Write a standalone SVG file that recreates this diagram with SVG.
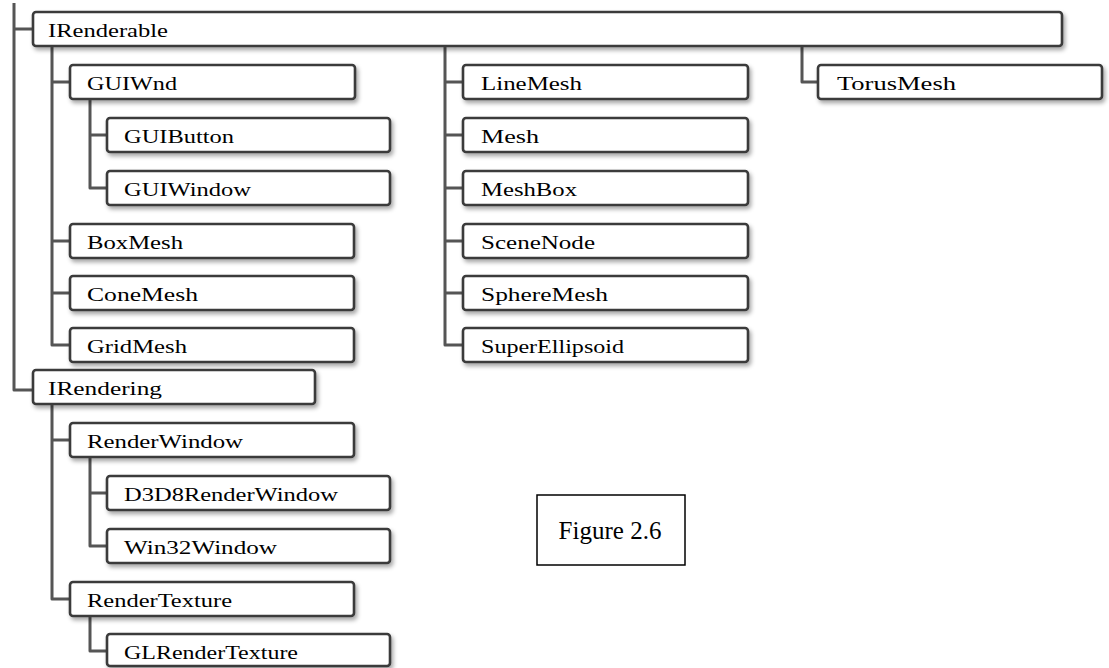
<svg xmlns="http://www.w3.org/2000/svg" width="1109" height="668" viewBox="0 0 1109 668">
<style>
.box{fill:#fff;stroke:#3a3a3a;stroke-width:2.6;filter:url(#sh)}
.t{font-family:"Liberation Serif","Times New Roman",serif;font-size:18px;fill:#000}
.conn{fill:none;stroke:#555;stroke-width:3;stroke-linejoin:round}
.fig{fill:#fff;stroke:#000;stroke-width:1.5}
.ft{font-family:"Liberation Serif","Times New Roman",serif;font-size:25px;fill:#000}
</style>
<defs>
<filter id="sh" x="-5%" y="-30%" width="110%" height="180%">
<feDropShadow dx="2" dy="3" stdDeviation="2" flood-color="#000" flood-opacity="0.35"/>
</filter>
</defs>
<g id="connectors">
<path class="conn" d="M14 3 V390 H33 M14 29 H33"/>
<path class="conn" d="M52 46 V345 H70 M52 82 H70 M52 241 H70 M52 293 H70"/>
<path class="conn" d="M90 98 V188 H107 M90 135 H107"/>
<path class="conn" d="M445 46 V345 H463 M445 82 H463 M445 135 H463 M445 188 H463 M445 241 H463 M445 293 H463"/>
<path class="conn" d="M802 46 V82 H818"/>
<path class="conn" d="M52 404 V599 H70 M52 440 H70"/>
<path class="conn" d="M90 457 V546 H107 M90 493 H107"/>
<path class="conn" d="M90 616 V651 H107"/>
</g>
<g id="IRenderable"><rect class="box" x="33" y="12" width="1029" height="34" rx="3"/><text class="t" x="48" y="37" textLength="120" lengthAdjust="spacingAndGlyphs">IRenderable</text></g>
<g id="GUIWnd"><rect class="box" x="70" y="65" width="285" height="34" rx="3"/><text class="t" x="87" y="90" textLength="90" lengthAdjust="spacingAndGlyphs">GUIWnd</text></g>
<g id="GUIButton"><rect class="box" x="107" y="118" width="283" height="34" rx="3"/><text class="t" x="124" y="143" textLength="110" lengthAdjust="spacingAndGlyphs">GUIButton</text></g>
<g id="GUIWindow"><rect class="box" x="107" y="171" width="283" height="34" rx="3"/><text class="t" x="124" y="196" textLength="127" lengthAdjust="spacingAndGlyphs">GUIWindow</text></g>
<g id="BoxMesh"><rect class="box" x="70" y="224" width="284" height="34" rx="3"/><text class="t" x="87" y="249" textLength="96" lengthAdjust="spacingAndGlyphs">BoxMesh</text></g>
<g id="ConeMesh"><rect class="box" x="70" y="276" width="284" height="34" rx="3"/><text class="t" x="87" y="301" textLength="111" lengthAdjust="spacingAndGlyphs">ConeMesh</text></g>
<g id="GridMesh"><rect class="box" x="70" y="328" width="284" height="34" rx="3"/><text class="t" x="87" y="353" textLength="100" lengthAdjust="spacingAndGlyphs">GridMesh</text></g>
<g id="IRendering"><rect class="box" x="33" y="370" width="282" height="34" rx="3"/><text class="t" x="48" y="395" textLength="114" lengthAdjust="spacingAndGlyphs">IRendering</text></g>
<g id="RenderWindow"><rect class="box" x="70" y="423" width="284" height="34" rx="3"/><text class="t" x="87" y="448" textLength="156" lengthAdjust="spacingAndGlyphs">RenderWindow</text></g>
<g id="D3D8RenderWindow"><rect class="box" x="107" y="476" width="283" height="34" rx="3"/><text class="t" x="124" y="501" textLength="214" lengthAdjust="spacingAndGlyphs">D3D8RenderWindow</text></g>
<g id="Win32Window"><rect class="box" x="107" y="529" width="283" height="34" rx="3"/><text class="t" x="124" y="554" textLength="153" lengthAdjust="spacingAndGlyphs">Win32Window</text></g>
<g id="RenderTexture"><rect class="box" x="70" y="582" width="284" height="34" rx="3"/><text class="t" x="87" y="607" textLength="145" lengthAdjust="spacingAndGlyphs">RenderTexture</text></g>
<g id="GLRenderTexture"><rect class="box" x="107" y="634" width="283" height="32" rx="3"/><text class="t" x="124" y="659" textLength="174" lengthAdjust="spacingAndGlyphs">GLRenderTexture</text></g>
<g id="LineMesh"><rect class="box" x="463" y="65" width="285" height="34" rx="3"/><text class="t" x="481" y="90" textLength="101" lengthAdjust="spacingAndGlyphs">LineMesh</text></g>
<g id="Mesh"><rect class="box" x="463" y="118" width="285" height="34" rx="3"/><text class="t" x="481" y="143" textLength="58" lengthAdjust="spacingAndGlyphs">Mesh</text></g>
<g id="MeshBox"><rect class="box" x="463" y="171" width="285" height="34" rx="3"/><text class="t" x="481" y="196" textLength="96" lengthAdjust="spacingAndGlyphs">MeshBox</text></g>
<g id="SceneNode"><rect class="box" x="463" y="224" width="285" height="34" rx="3"/><text class="t" x="481" y="249" textLength="114" lengthAdjust="spacingAndGlyphs">SceneNode</text></g>
<g id="SphereMesh"><rect class="box" x="463" y="276" width="285" height="34" rx="3"/><text class="t" x="481" y="301" textLength="127" lengthAdjust="spacingAndGlyphs">SphereMesh</text></g>
<g id="SuperEllipsoid"><rect class="box" x="463" y="328" width="285" height="34" rx="3"/><text class="t" x="481" y="353" textLength="143" lengthAdjust="spacingAndGlyphs">SuperEllipsoid</text></g>
<g id="TorusMesh"><rect class="box" x="818" y="65" width="284" height="34" rx="3"/><text class="t" x="837" y="90" textLength="119" lengthAdjust="spacingAndGlyphs">TorusMesh</text></g>
<g id="Figure"><rect class="fig" x="537" y="495" width="148" height="70"/><text class="ft" x="610" y="539" text-anchor="middle">Figure 2.6</text></g>
</svg>
